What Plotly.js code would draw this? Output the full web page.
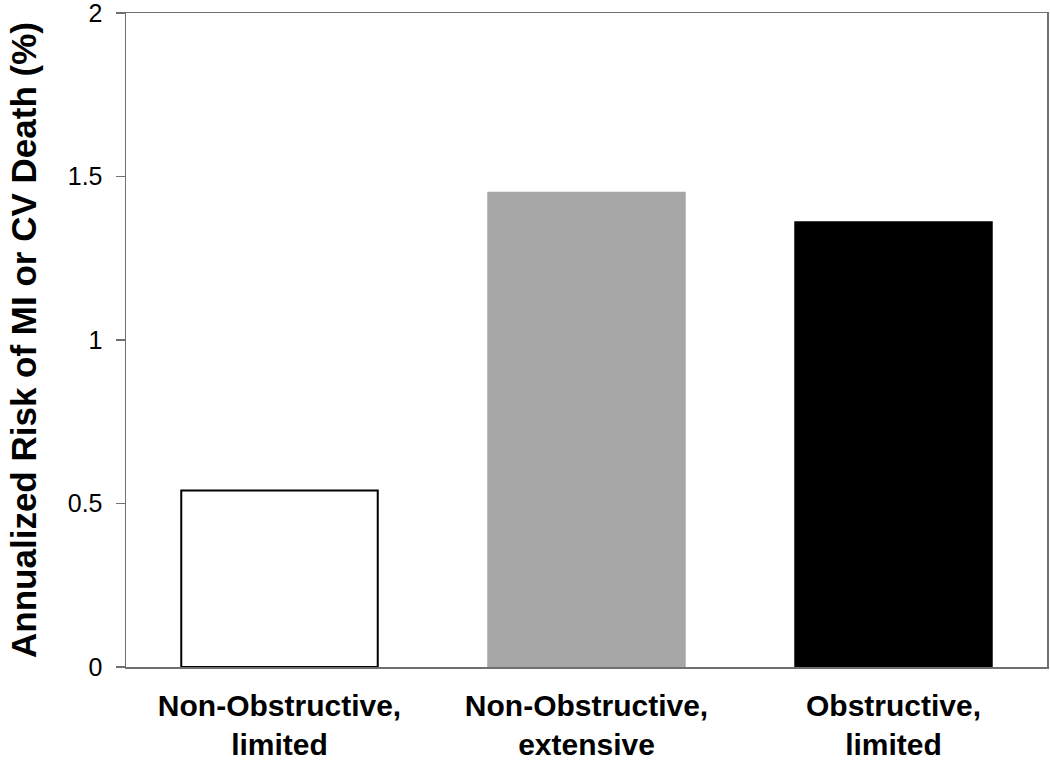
<!DOCTYPE html>
<html>
<head>
<meta charset="utf-8">
<script src="https://cdn.plot.ly/plotly-3.0.1.min.js"></script>
<style>
  html, body { margin: 0; padding: 0; background: #fff; }
  #plot { width: 1050px; height: 760px; }
</style>
</head>
<body>
<div id="plot"></div>
<script>
// categories and annualized risk values (%)
const categories = ["Non-Obstructive,<br>limited", "Non-Obstructive,<br>extensive", "Obstructive,<br>limited"];
const riskValues = [0.54, 1.45, 1.36];
const yTicks = [0, 0.5, 1, 1.5, 2];
const yTickText = ["0", "0.5", "1", "1.5", "2"];

const barColors = ["#ffffff", "#a6a6a6", "#000000"];
const barLines = ["#000000", "#a6a6a6", "#000000"];

const data = [{
  type: "bar",
  x: categories,
  y: riskValues,
  width: 0.64,
  marker: {
    color: barColors,
    line: { color: barLines, width: 2 }
  },
  hoverinfo: "none"
}];

const axisColor = "#707070";

const layout = {
  width: 1050,
  height: 760,
  margin: { l: 126, r: 3, t: 13, b: 93 },
  paper_bgcolor: "#fff",
  plot_bgcolor: "#fff",
  showlegend: false,
  font: { family: "Liberation Sans, Arial, sans-serif", color: "#000" },
  xaxis: {
    showline: true,
    linecolor: axisColor,
    linewidth: 1.5,
    mirror: true,
    ticks: "",
    tickfont: { size: 30, family: "Liberation Sans, Arial, sans-serif", weight: "bold" },
    ticklabelstandoff: 11
  },
  yaxis: {
    range: [0, 2],
    tickvals: yTicks,
    ticktext: yTickText,
    ticklabeloverflow: "allow",
    showgrid: false,
    zeroline: false,
    showline: true,
    linecolor: axisColor,
    linewidth: 1.5,
    mirror: true,
    ticks: "outside",
    ticklen: 9,
    tickcolor: axisColor,
    tickwidth: 1.5,
    tickfont: { size: 25 },
    ticklabelstandoff: 8,
    title: {
      text: "<b>Annualized Risk of MI or CV Death (%)</b>",
      font: { size: 35 },
      standoff: 20
    }
  }
};

Plotly.newPlot("plot", data, layout, { displayModeBar: false, staticPlot: true });
</script>
</body>
</html>
